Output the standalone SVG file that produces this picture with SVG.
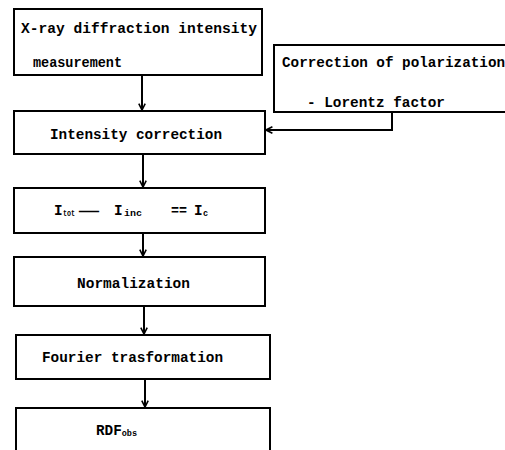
<svg xmlns="http://www.w3.org/2000/svg" width="505" height="450" viewBox="0 0 505 450">
<defs>
<style>
.box{fill:#fff;stroke:#000;stroke-width:2}
.t{font-family:"Liberation Mono","DejaVu Sans Mono",monospace;font-weight:bold;font-size:14.3px;fill:#000}
.s{font-size:8.5px}
.c{fill:none;stroke:#000;stroke-width:2}
</style>
<marker id="arr" viewBox="0 0 10 10" refX="9" refY="5" markerWidth="8" markerHeight="8" markerUnits="userSpaceOnUse" orient="auto">
<path d="M1,1 L9,5 L1,9" fill="none" stroke="#000" stroke-width="2"/>
</marker>
</defs>
<rect width="505" height="450" fill="#fff"/>
<g id="n1"><rect class="box" x="14" y="9" width="248" height="66"/>
<text class="t" x="21" y="33" textLength="236" lengthAdjust="spacingAndGlyphs">X-ray diffraction intensity</text>
<text class="t" x="33" y="67" textLength="89" lengthAdjust="spacingAndGlyphs">measurement</text></g>
<g id="n2"><rect class="box" x="274" y="45" width="240" height="67"/>
<text class="t" x="282" y="67">Correction of polarization</text>
<text class="t" x="307" y="107" textLength="138" lengthAdjust="spacingAndGlyphs">- Lorentz factor</text></g>
<g id="n3"><rect class="box" x="14" y="111" width="251" height="43"/>
<text class="t" x="50" y="139" textLength="172" lengthAdjust="spacingAndGlyphs">Intensity correction</text></g>
<g id="n4"><rect class="box" x="14" y="188" width="251" height="45"/>
<text class="t" x="54" y="215">I</text>
<text class="t s" x="63" y="216" textLength="12" lengthAdjust="spacingAndGlyphs">tot</text>
<text class="t" x="79" y="215" textLength="20" lengthAdjust="spacingAndGlyphs">—</text>
<text class="t" x="114" y="215">I</text>
<text class="t s" x="124" y="216" textLength="18" lengthAdjust="spacingAndGlyphs">inc</text>
<text class="t" x="171" y="215" textLength="16" lengthAdjust="spacingAndGlyphs">==</text>
<text class="t" x="194" y="215">I</text>
<text class="t s" x="203" y="216">c</text></g>
<g id="n5"><rect class="box" x="14" y="257" width="251" height="49"/>
<text class="t" x="77" y="288" textLength="113" lengthAdjust="spacingAndGlyphs">Normalization</text></g>
<g id="n6"><rect class="box" x="16" y="335" width="254" height="44"/>
<text class="t" x="42" y="362" textLength="181" lengthAdjust="spacingAndGlyphs">Fourier trasformation</text></g>
<g id="n7"><rect class="box" x="16" y="408" width="254" height="60"/>
<text class="t" x="96" y="435">RDF<tspan class="s" dy="1">obs</tspan></text></g>
<g id="connectors">
<line class="c" x1="142" y1="75" x2="142" y2="110" marker-end="url(#arr)"/>
<polyline class="c" points="392,112 392,130 266,130" marker-end="url(#arr)"/>
<line class="c" x1="143" y1="154" x2="143" y2="187" marker-end="url(#arr)"/>
<line class="c" x1="143" y1="233" x2="143" y2="256" marker-end="url(#arr)"/>
<line class="c" x1="144" y1="306" x2="144" y2="334" marker-end="url(#arr)"/>
<line class="c" x1="145" y1="379" x2="145" y2="407" marker-end="url(#arr)"/>
</g>
</svg>
